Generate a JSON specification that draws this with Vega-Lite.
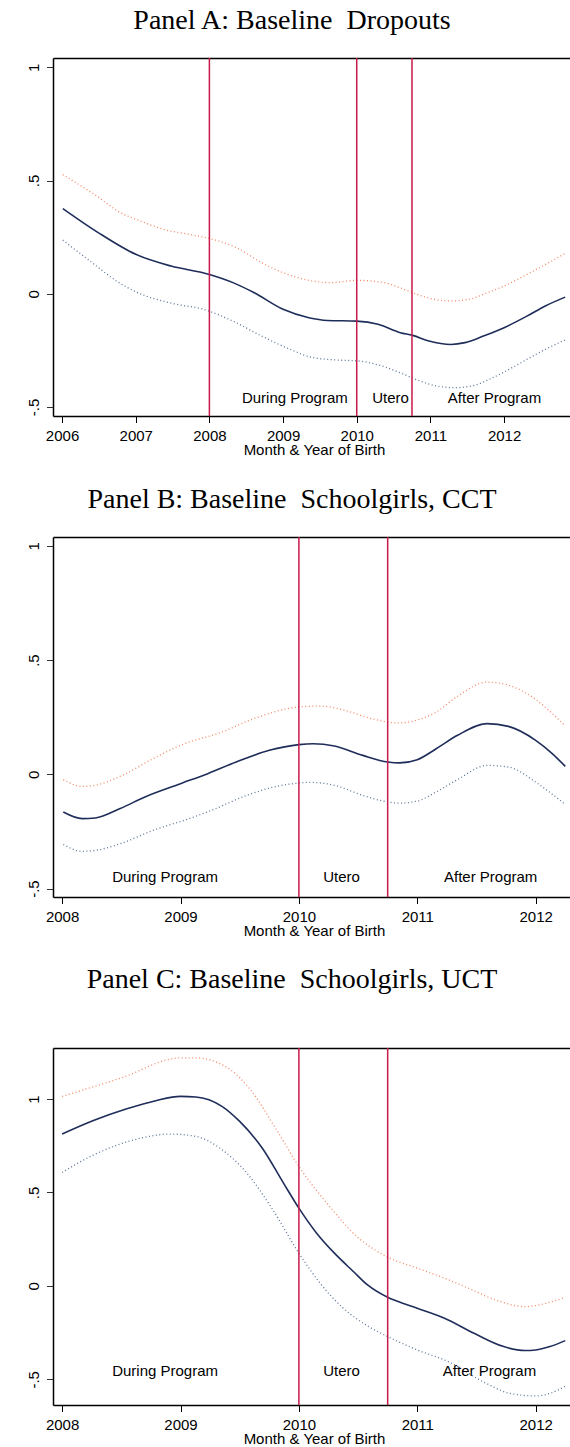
{
  "$schema": "https://vega.github.io/schema/vega-lite/v6.json",
  "padding": {"left": 26, "top": 7, "right": 0, "bottom": 0},
  "background": "white",
  "spacing": 27,
  "config": {
    "view": {"stroke": null},
    "axisX": {"labelFont": "Liberation Sans", "labelFontSize": 15, "labelColor": "black", "tickSize": 6.5, "tickColor": "black", "tickWidth": 1, "labelPadding": 5.5, "domainColor": "black", "domainWidth": 1.5, "grid": false, "titleFont": "Liberation Sans", "titleFontSize": 15, "titleFontWeight": "normal", "titleColor": "black"},
    "axisY": {"labelFont": "Liberation Sans", "labelFontSize": 15, "labelColor": "black", "tickSize": 6.5, "tickColor": "#333333", "tickWidth": 1, "labelPadding": 5, "domainColor": "black", "domainWidth": 1.5, "grid": false, "labelAngle": 270, "labelAlign": "center", "labelBaseline": "bottom"},
    "title": {"font": "Liberation Serif", "fontSize": 28, "fontWeight": "normal", "color": "black", "anchor": "middle", "frame": "group", "baseline": "alphabetic", "dx": -19.5}
  },
  "datasets": {
    "A_est": [{"t":2006.01,"v":0.376},{"t":2006.49,"v":0.27},{"t":2007.0,"v":0.174},{"t":2007.48,"v":0.122},{"t":2008.0,"v":0.085},{"t":2008.32,"v":0.049},{"t":2008.61,"v":0.004},{"t":2009.0,"v":-0.069},{"t":2009.35,"v":-0.106},{"t":2009.6,"v":-0.118},{"t":2010.0,"v":-0.121},{"t":2010.29,"v":-0.135},{"t":2010.59,"v":-0.172},{"t":2010.76,"v":-0.184},{"t":2010.98,"v":-0.209},{"t":2011.28,"v":-0.224},{"t":2011.47,"v":-0.216},{"t":2011.72,"v":-0.187},{"t":2012.0,"v":-0.15},{"t":2012.31,"v":-0.099},{"t":2012.56,"v":-0.054},{"t":2012.83,"v":-0.015}],
    "A_hi": [{"t":2006.01,"v":0.526},{"t":2006.44,"v":0.438},{"t":2006.84,"v":0.35},{"t":2007.01,"v":0.328},{"t":2007.38,"v":0.284},{"t":2007.73,"v":0.262},{"t":2008.0,"v":0.244},{"t":2008.37,"v":0.203},{"t":2008.71,"v":0.137},{"t":2009.0,"v":0.093},{"t":2009.35,"v":0.059},{"t":2009.65,"v":0.049},{"t":2010.0,"v":0.059},{"t":2010.34,"v":0.051},{"t":2010.59,"v":0.026},{"t":2010.76,"v":0.004},{"t":2011.0,"v":-0.021},{"t":2011.28,"v":-0.032},{"t":2011.52,"v":-0.025},{"t":2011.77,"v":0.004},{"t":2012.0,"v":0.034},{"t":2012.31,"v":0.085},{"t":2012.56,"v":0.129},{"t":2012.83,"v":0.178}],
    "A_lo": [{"t":2006.01,"v":0.237},{"t":2006.44,"v":0.129},{"t":2006.74,"v":0.056},{"t":2007.01,"v":0.007},{"t":2007.5,"v":-0.043},{"t":2007.92,"v":-0.069},{"t":2008.32,"v":-0.121},{"t":2008.71,"v":-0.187},{"t":2009.1,"v":-0.246},{"t":2009.4,"v":-0.282},{"t":2009.75,"v":-0.293},{"t":2010.02,"v":-0.297},{"t":2010.34,"v":-0.319},{"t":2010.59,"v":-0.349},{"t":2010.83,"v":-0.382},{"t":2011.08,"v":-0.407},{"t":2011.33,"v":-0.415},{"t":2011.57,"v":-0.407},{"t":2011.82,"v":-0.375},{"t":2012.0,"v":-0.346},{"t":2012.31,"v":-0.29},{"t":2012.56,"v":-0.246},{"t":2012.83,"v":-0.204}],
    "B_est": [{"t":2008.01,"v":-0.165},{"t":2008.17,"v":-0.194},{"t":2008.28,"v":-0.191},{"t":2008.49,"v":-0.15},{"t":2008.7,"v":-0.099},{"t":2009.0,"v":-0.041},{"t":2009.23,"v":0.003},{"t":2009.47,"v":0.054},{"t":2009.75,"v":0.105},{"t":2010.0,"v":0.13},{"t":2010.12,"v":0.134},{"t":2010.3,"v":0.124},{"t":2010.54,"v":0.083},{"t":2010.75,"v":0.054},{"t":2010.85,"v":0.05},{"t":2011.0,"v":0.064},{"t":2011.16,"v":0.112},{"t":2011.34,"v":0.171},{"t":2011.59,"v":0.222},{"t":2011.77,"v":0.21},{"t":2012.0,"v":0.149},{"t":2012.14,"v":0.091},{"t":2012.25,"v":0.035}],
    "B_hi": [{"t":2008.01,"v":-0.023},{"t":2008.17,"v":-0.053},{"t":2008.28,"v":-0.048},{"t":2008.51,"v":-0.004},{"t":2008.77,"v":0.069},{"t":2009.0,"v":0.127},{"t":2009.35,"v":0.185},{"t":2009.62,"v":0.244},{"t":2010.0,"v":0.295},{"t":2010.18,"v":0.299},{"t":2010.39,"v":0.28},{"t":2010.61,"v":0.244},{"t":2010.84,"v":0.225},{"t":2011.01,"v":0.239},{"t":2011.16,"v":0.273},{"t":2011.34,"v":0.342},{"t":2011.59,"v":0.404},{"t":2011.77,"v":0.39},{"t":2012.0,"v":0.328},{"t":2012.14,"v":0.266},{"t":2012.25,"v":0.212}],
    "B_lo": [{"t":2008.01,"v":-0.307},{"t":2008.17,"v":-0.337},{"t":2008.28,"v":-0.333},{"t":2008.49,"v":-0.304},{"t":2008.77,"v":-0.245},{"t":2009.09,"v":-0.191},{"t":2009.26,"v":-0.158},{"t":2009.56,"v":-0.092},{"t":2009.81,"v":-0.053},{"t":2010.0,"v":-0.038},{"t":2010.08,"v":-0.035},{"t":2010.3,"v":-0.048},{"t":2010.54,"v":-0.092},{"t":2010.75,"v":-0.121},{"t":2010.85,"v":-0.126},{"t":2011.0,"v":-0.117},{"t":2011.16,"v":-0.077},{"t":2011.34,"v":-0.023},{"t":2011.59,"v":0.039},{"t":2011.77,"v":0.032},{"t":2012.0,"v":-0.034},{"t":2012.17,"v":-0.099},{"t":2012.25,"v":-0.131}],
    "C_est": [{"t":2008.0,"v":0.8125},{"t":2008.27,"v":0.886},{"t":2008.54,"v":0.946},{"t":2008.79,"v":0.991},{"t":2009.0,"v":1.014},{"t":2009.13,"v":1.011},{"t":2009.35,"v":0.961},{"t":2009.5,"v":0.88},{"t":2009.69,"v":0.738},{"t":2009.87,"v":0.55},{"t":2010.0,"v":0.416},{"t":2010.15,"v":0.282},{"t":2010.3,"v":0.175},{"t":2010.46,"v":0.077},{"t":2010.58,"v":0.005},{"t":2010.75,"v":-0.061},{"t":2010.86,"v":-0.089},{"t":2011.0,"v":-0.12},{"t":2011.23,"v":-0.173},{"t":2011.48,"v":-0.254},{"t":2011.73,"v":-0.325},{"t":2011.91,"v":-0.346},{"t":2012.0,"v":-0.343},{"t":2012.12,"v":-0.325},{"t":2012.25,"v":-0.293}],
    "C_hi": [{"t":2008.0,"v":1.014},{"t":2008.5,"v":1.113},{"t":2009.0,"v":1.22},{"t":2009.13,"v":1.22},{"t":2009.42,"v":1.157},{"t":2009.59,"v":1.05},{"t":2009.81,"v":0.836},{"t":2010.0,"v":0.639},{"t":2010.26,"v":0.425},{"t":2010.49,"v":0.264},{"t":2010.75,"v":0.154},{"t":2011.0,"v":0.095},{"t":2011.23,"v":0.041},{"t":2011.42,"v":-0.009},{"t":2011.66,"v":-0.075},{"t":2011.91,"v":-0.111},{"t":2012.09,"v":-0.093},{"t":2012.25,"v":-0.061}],
    "C_lo": [{"t":2008.0,"v":0.607},{"t":2008.27,"v":0.702},{"t":2008.67,"v":0.791},{"t":2008.91,"v":0.8125},{"t":2009.13,"v":0.8},{"t":2009.35,"v":0.729},{"t":2009.56,"v":0.604},{"t":2009.78,"v":0.407},{"t":2010.0,"v":0.175},{"t":2010.18,"v":0.014},{"t":2010.36,"v":-0.111},{"t":2010.59,"v":-0.218},{"t":2010.75,"v":-0.271},{"t":2011.0,"v":-0.343},{"t":2011.26,"v":-0.405},{"t":2011.58,"v":-0.521},{"t":2011.78,"v":-0.575},{"t":2012.0,"v":-0.589},{"t":2012.12,"v":-0.575},{"t":2012.26,"v":-0.534}],
    "A_vl": [{"x": 2008}, {"x": 2010}, {"x": 2010.75}],
    "BC_vl": [{"x": 2010}, {"x": 2010.75}],
    "A_lab": [{"x": 2009.16, "y": -0.459, "label": "During Program"}, {"x": 2010.46, "y": -0.459, "label": "Utero"}, {"x": 2011.87, "y": -0.459, "label": "After Program"}],
    "B_lab": [{"x": 2008.87, "y": -0.45, "label": "During Program"}, {"x": 2010.36, "y": -0.45, "label": "Utero"}, {"x": 2011.62, "y": -0.45, "label": "After Program"}],
    "C_lab": [{"x": 2008.87, "y": -0.454, "label": "During Program"}, {"x": 2010.36, "y": -0.454, "label": "Utero"}, {"x": 2011.61, "y": -0.454, "label": "After Program"}]
  },
  "vconcat": [
    {
      "width": 517, "height": 358,
      "title": {"text": "Panel A: Baseline\u00a0 Dropouts", "offset": 21.8},
      "resolve": {"axis": {"x": "independent"}},
      "layer": [
        {"data": {"name": "A_hi"}, "mark": {"type": "line", "interpolate": "monotone", "color": "#f06a40", "strokeWidth": 1.3, "strokeDash": [1, 2.5], "opacity": 0.8},
         "encoding": {"x": {"field": "t", "type": "quantitative", "scale": {"domain": [2005.877, 2012.895], "nice": false, "zero": false}, "axis": null}, "y": {"field": "v", "type": "quantitative", "title": null, "scale": {"domain": [-0.54, 1.041], "nice": false, "zero": false}}}},
        {"data": {"name": "A_lo"}, "mark": {"type": "line", "interpolate": "monotone", "color": "#34557f", "strokeWidth": 1.3, "strokeDash": [1, 2.5], "opacity": 0.8},
         "encoding": {"x": {"field": "t", "type": "quantitative", "axis": null}, "y": {"field": "v", "type": "quantitative", "title": null}}},
        {"data": {"name": "A_est"}, "mark": {"type": "line", "interpolate": "monotone", "color": "#1f2d5a", "strokeWidth": 1.6},
         "encoding": {"x": {"field": "t", "type": "quantitative", "title": "Month & Year of Birth", "axis": {"values": [2006, 2007, 2008, 2009, 2010, 2011, 2012], "format": "d", "orient": "bottom", "titleX": 261, "titleY": 38.3, "titleBaseline": "alphabetic", "titleAlign": "center"}},
                      "y": {"field": "v", "type": "quantitative", "title": null, "axis": {"values": [-0.5, 0, 0.5, 1], "labelExpr": "datum.value == 1 ? '1' : datum.value == 0.5 ? '.5' : datum.value == 0 ? '0' : '-.5'"}}}},
        {"data": {"name": "A_vl"}, "mark": {"type": "rule", "color": "#c8194b", "strokeWidth": 1.5},
         "encoding": {"x": {"field": "x", "type": "quantitative", "title": null, "axis": {"orient": "top", "labels": false, "ticks": false, "domain": true, "domainColor": "black", "domainWidth": 1.5}}}},
        {"mark": {"type": "rule", "color": "#c8194b", "strokeWidth": 1.5}, "encoding": {"y": {"datum": 0}}},
        {"data": {"name": "A_lab"}, "mark": {"type": "text", "font": "Liberation Sans", "fontSize": 15, "color": "black", "align": "center", "baseline": "middle"},
         "encoding": {"x": {"field": "x", "type": "quantitative", "axis": null}, "y": {"field": "y", "type": "quantitative", "title": null}, "text": {"field": "label"}}}
      ]
    },
    {
      "width": 517, "height": 360,
      "title": {"text": "Panel B: Baseline\u00a0 Schoolgirls, CCT", "offset": 22.4},
      "resolve": {"axis": {"x": "independent"}},
      "layer": [
        {"data": {"name": "B_hi"}, "mark": {"type": "line", "interpolate": "monotone", "color": "#f06a40", "strokeWidth": 1.3, "strokeDash": [1, 2.5], "opacity": 0.8},
         "encoding": {"x": {"field": "t", "type": "quantitative", "scale": {"domain": [2007.923, 2012.29], "nice": false, "zero": false}, "axis": null}, "y": {"field": "v", "type": "quantitative", "title": null, "scale": {"domain": [-0.537, 1.039], "nice": false, "zero": false}}}},
        {"data": {"name": "B_lo"}, "mark": {"type": "line", "interpolate": "monotone", "color": "#34557f", "strokeWidth": 1.3, "strokeDash": [1, 2.5], "opacity": 0.8},
         "encoding": {"x": {"field": "t", "type": "quantitative", "axis": null}, "y": {"field": "v", "type": "quantitative", "title": null}}},
        {"data": {"name": "B_est"}, "mark": {"type": "line", "interpolate": "monotone", "color": "#1f2d5a", "strokeWidth": 1.6},
         "encoding": {"x": {"field": "t", "type": "quantitative", "title": "Month & Year of Birth", "axis": {"values": [2008, 2009, 2010, 2011, 2012], "format": "d", "orient": "bottom", "titleX": 261, "titleY": 38.3, "titleBaseline": "alphabetic", "titleAlign": "center"}},
                      "y": {"field": "v", "type": "quantitative", "title": null, "axis": {"values": [-0.5, 0, 0.5, 1], "labelExpr": "datum.value == 1 ? '1' : datum.value == 0.5 ? '.5' : datum.value == 0 ? '0' : '-.5'"}}}},
        {"data": {"name": "BC_vl"}, "mark": {"type": "rule", "color": "#c8194b", "strokeWidth": 1.5},
         "encoding": {"x": {"field": "x", "type": "quantitative", "title": null, "axis": {"orient": "top", "labels": false, "ticks": false, "domain": true, "domainColor": "black", "domainWidth": 1.5}}}},
        {"mark": {"type": "rule", "color": "#c8194b", "strokeWidth": 1.5}, "encoding": {"y": {"datum": 0}}},
        {"data": {"name": "B_lab"}, "mark": {"type": "text", "font": "Liberation Sans", "fontSize": 15, "color": "black", "align": "center", "baseline": "middle"},
         "encoding": {"x": {"field": "x", "type": "quantitative", "axis": null}, "y": {"field": "y", "type": "quantitative", "title": null}, "text": {"field": "label"}}}
      ]
    },
    {
      "width": 517, "height": 357,
      "title": {"text": "Panel C: Baseline\u00a0 Schoolgirls, UCT", "offset": 52.8},
      "resolve": {"axis": {"x": "independent"}},
      "layer": [
        {"data": {"name": "C_hi"}, "mark": {"type": "line", "interpolate": "monotone", "color": "#f06a40", "strokeWidth": 1.3, "strokeDash": [1, 2.5], "opacity": 0.8},
         "encoding": {"x": {"field": "t", "type": "quantitative", "scale": {"domain": [2007.923, 2012.29], "nice": false, "zero": false}, "axis": null}, "y": {"field": "v", "type": "quantitative", "title": null, "scale": {"domain": [-0.6375, 1.273], "nice": false, "zero": false}}}},
        {"data": {"name": "C_lo"}, "mark": {"type": "line", "interpolate": "monotone", "color": "#34557f", "strokeWidth": 1.3, "strokeDash": [1, 2.5], "opacity": 0.8},
         "encoding": {"x": {"field": "t", "type": "quantitative", "axis": null}, "y": {"field": "v", "type": "quantitative", "title": null}}},
        {"data": {"name": "C_est"}, "mark": {"type": "line", "interpolate": "monotone", "color": "#1f2d5a", "strokeWidth": 1.6},
         "encoding": {"x": {"field": "t", "type": "quantitative", "title": "Month & Year of Birth", "axis": {"values": [2008, 2009, 2010, 2011, 2012], "format": "d", "orient": "bottom", "titleX": 261, "titleY": 38.3, "titleBaseline": "alphabetic", "titleAlign": "center"}},
                      "y": {"field": "v", "type": "quantitative", "title": null, "axis": {"values": [-0.5, 0, 0.5, 1], "labelExpr": "datum.value == 1 ? '1' : datum.value == 0.5 ? '.5' : datum.value == 0 ? '0' : '-.5'"}}}},
        {"data": {"name": "BC_vl"}, "mark": {"type": "rule", "color": "#c8194b", "strokeWidth": 1.5},
         "encoding": {"x": {"field": "x", "type": "quantitative", "title": null, "axis": {"orient": "top", "labels": false, "ticks": false, "domain": true, "domainColor": "black", "domainWidth": 1.5}}}},
        {"mark": {"type": "rule", "color": "#c8194b", "strokeWidth": 1.5}, "encoding": {"y": {"datum": 0}}},
        {"data": {"name": "C_lab"}, "mark": {"type": "text", "font": "Liberation Sans", "fontSize": 15, "color": "black", "align": "center", "baseline": "middle"},
         "encoding": {"x": {"field": "x", "type": "quantitative", "axis": null}, "y": {"field": "y", "type": "quantitative", "title": null}, "text": {"field": "label"}}}
      ]
    }
  ]
}
